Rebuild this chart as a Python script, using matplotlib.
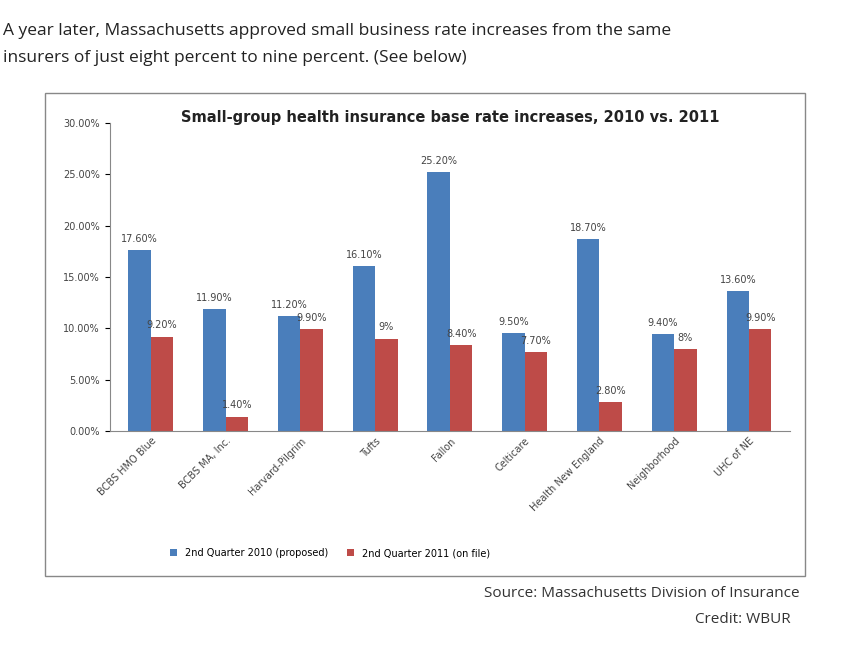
import matplotlib.pyplot as plt
import numpy as np
from matplotlib.patches import Rectangle

insurers = ['BCBS HMO Blue', 'BCBS MA, Inc.', 'Harvard-Pilgrim', 'Tufts', 'Fallon',
            'Celticare', 'Health New England', 'Neighborhood', 'UHC of NE']
rate_2010 = [17.6, 11.9, 11.2, 16.1, 25.2, 9.5, 18.7, 9.4, 13.6]
rate_2011 = [9.2, 1.4, 9.9, 9.0, 8.4, 7.7, 2.8, 8.0, 9.9]
labels_2010 = ['17.60%', '11.90%', '11.20%', '16.10%', '25.20%', '9.50%', '18.70%', '9.40%', '13.60%']
labels_2011 = ['9.20%', '1.40%', '9.90%', '9%', '8.40%', '7.70%', '2.80%', '8%', '9.90%']
yticks = [0, 5, 10, 15, 20, 25, 30]

blue = '#4a7ebb'
red = '#be4b48'

fig = plt.figure(figsize=(8.57, 6.61), dpi=100)
fig.text(0.003, 0.947, 'A year later, Massachusetts approved small business rate increases from the same',
         fontsize=12.5, family='Open Sans', color='#222222')
fig.text(0.003, 0.906, 'insurers of just eight percent to nine percent. (See below)',
         fontsize=12.5, family='Open Sans', color='#222222')

fig.patches.append(Rectangle((0.0525, 0.128), 0.887, 0.731, transform=fig.transFigure,
                             fill=False, edgecolor='#888888', lw=1))

ax = fig.add_axes([0.128, 0.348, 0.794, 0.466])
x = np.arange(len(insurers))
w = 0.3
ax.bar(x - w / 2, rate_2010, w, color=blue, label='2nd Quarter 2010 (proposed)')
ax.bar(x + w / 2, rate_2011, w, color=red, label='2nd Quarter 2011 (on file)')
for i in range(len(insurers)):
    ax.text(x[i] - w / 2, rate_2010[i] + 0.6, labels_2010[i], ha='center', va='bottom', fontsize=7, color='#444444')
    ax.text(x[i] + w / 2, rate_2011[i] + 0.6, labels_2011[i], ha='center', va='bottom', fontsize=7, color='#444444')

ax.set_ylim(0, 30)
ax.set_xlim(-0.55, len(insurers) - 0.45)
ax.set_yticks(yticks)
ax.set_yticklabels([f'{v:.2f}%' for v in yticks], fontsize=7, color='#444444')
ax.set_xticks(x)
ax.set_xticklabels(insurers, rotation=45, ha='right', rotation_mode='anchor', fontsize=7, color='#444444')
ax.tick_params(axis='x', length=0)
for s in ['top', 'right']:
    ax.spines[s].set_visible(False)
ax.spines['left'].set_color('#888888')
ax.spines['bottom'].set_color('#888888')
ax.set_title('Small-group health insurance base rate increases, 2010 vs. 2011',
             fontsize=10.5, fontweight='bold', color='#222222', y=0.975)
fig.legend(loc='center', bbox_to_anchor=(0.385, 0.163), ncol=2, frameon=False, fontsize=7,
           handlelength=0.7, handleheight=0.7, columnspacing=2)

fig.text(0.933, 0.097, 'Source: Massachusetts Division of Insurance', ha='right', fontsize=11,
         family='Open Sans', color='#333333')
fig.text(0.922, 0.057, 'Credit: WBUR', ha='right', fontsize=11, family='Open Sans', color='#333333')

fig.savefig('out.png', dpi=100)
